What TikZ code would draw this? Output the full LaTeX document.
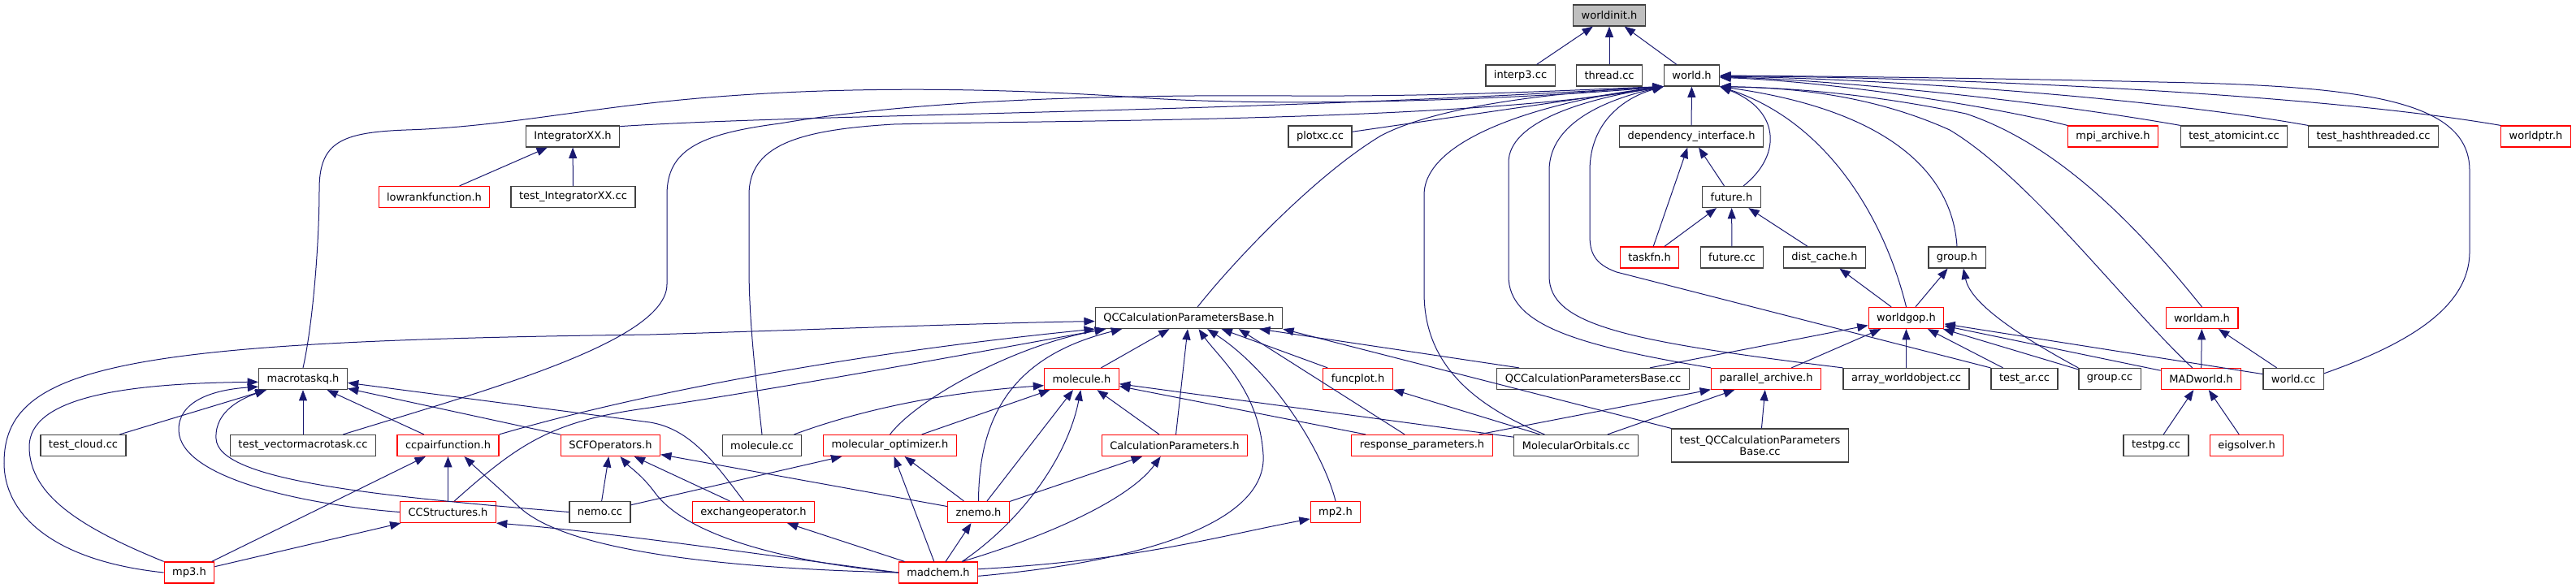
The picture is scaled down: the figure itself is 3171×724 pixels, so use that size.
\documentclass[tikz,border=0pt]{standalone}
\usepackage{fontspec}
\setmainfont{DejaVu Sans}
\usepackage{tikz}
\usetikzlibrary{arrows.meta}
\newcommand\filefont{\fontsize{9.75}{10.5}\selectfont}

\begin{document}
\begin{tikzpicture}[x=0.75pt,y=0.75pt,yscale=-1,xscale=1,
    filebox/.style={draw={rgb, 255:red, 64; green, 64; blue, 64 }, line width=0.9pt, fill=white, minimum height=19.5pt, inner xsep=7.5pt, inner ysep=2pt, font=\filefont},
    cutbox/.style={filebox, draw={rgb, 255:red, 255; green, 0; blue, 0 }},
    rootbox/.style={filebox, fill={rgb, 255:red, 191; green, 191; blue, 191 }},
    incl/.style={draw={rgb, 255:red, 25; green, 25; blue, 112 }, line width=0.75pt, -{Triangle[length=10pt,width=7.5pt]}}]
        %set diagram left start at 0, and has height of 724
        \useasboundingbox (0,0) rectangle (3171,724);

        % Text Node rows 0-2
        \node [rootbox] (worldinit) at (1981,19) {worldinit.h};
        \node [filebox] (interp3) at (1871.5,93) {interp3.cc};
        \node [filebox] (thread) at (1981,93) {thread.cc};
        \node [filebox] (world) at (2082.5,93) {world.h};
        \node [filebox] (integratorxx) at (705,168) {IntegratorXX.h};
        \node [filebox] (plotxc) at (1625,168) {plotxc.cc};
        \node [filebox] (depinterface) at (2082,168) {dependency\_interface.h};
        \node [cutbox] (mpiarchive) at (2601,168) {mpi\_archive.h};
        \node [filebox] (testatomicint) at (2750,168) {test\_atomicint.cc};
        \node [filebox] (testhashthreaded) at (2921.5,168) {test\_hashthreaded.cc};
        \node [cutbox] (worldptr) at (3121.5,168) {worldptr.h};
        % Text Node rows 3-5
        \node [cutbox] (lowrankfunction) at (534.5,242.5) {lowrankfunction.h};
        \node [filebox] (testintegratorxx) at (705.5,242.5) {test\_IntegratorXX.cc};
        \node [filebox] (futureh) at (2131.5,242.5) {future.h};
        \node [cutbox] (taskfn) at (2030.5,317) {taskfn.h};
        \node [filebox] (futurecc) at (2132,317) {future.cc};
        \node [filebox] (distcache) at (2246,317) {dist\_cache.h};
        \node [filebox] (grouph) at (2409,317) {group.h};
        \node [filebox] (qcbaseh) at (1463.5,391.5) {QCCalculationParametersBase.h};
        \node [cutbox] (worldgop) at (2346.5,391.5) {worldgop.h};
        \node [cutbox] (worldam) at (2710.5,391.5) {worldam.h};
        % Text Node row 6
        \node [filebox] (macrotaskq) at (373,466.5) {macrotaskq.h};
        \node [cutbox] (moleculeh) at (1331.5,466.5) {molecule.h};
        \node [cutbox] (funcplot) at (1671.5,466.5) {funcplot.h};
        \node [filebox] (qcbasecc) at (1961,466.5) {QCCalculationParametersBase.cc};
        \node [cutbox] (parallelarchive) at (2174,466.5) {parallel\_archive.h};
        \node [filebox] (arrayworldobject) at (2346.5,466.5) {array\_worldobject.cc};
        \node [filebox] (testar) at (2492,466.5) {test\_ar.cc};
        \node [filebox] (groupcc) at (2597,466.5) {group.cc};
        \node [cutbox] (madworld) at (2709.5,466.5) {MADworld.h};
        \node [filebox] (worldcc) at (2823,466.5) {world.cc};
        % Text Node row 7
        \node [filebox] (testcloud) at (102.5,548.5) {test\_cloud.cc};
        \node [filebox] (testvectormacrotask) at (373,548.5) {test\_vectormacrotask.cc};
        \node [cutbox] (ccpairfunction) at (551.5,548.5) {ccpairfunction.h};
        \node [cutbox] (scfoperators) at (751.5,548.5) {SCFOperators.h};
        \node [filebox] (moleculecc) at (938,548.5) {molecule.cc};
        \node [cutbox] (moloptimizer) at (1095.5,548.5) {molecular\_optimizer.h};
        \node [cutbox] (calcparams) at (1446,548.5) {CalculationParameters.h};
        \node [cutbox] (responseparams) at (1750.5,548.5) {response\_parameters.h};
        \node [filebox] (molorbitals) at (1940,548.5) {MolecularOrbitals.cc};
        \node [filebox, minimum height=30.75pt, align=center] (testqcbase) at (2166.5,548.5) {test\_QCCalculationParameters\\Base.cc};
        \node [filebox] (testpg) at (2654,548.5) {testpg.cc};
        \node [cutbox] (eigsolver) at (2765.5,548.5) {eigsolver.h};
        % Text Node rows 8-9
        \node [cutbox] (ccstructures) at (551.5,630.5) {CCStructures.h};
        \node [filebox] (nemo) at (738.5,630.5) {nemo.cc};
        \node [cutbox] (exchangeop) at (927.5,630.5) {exchangeoperator.h};
        \node [cutbox] (znemo) at (1204.5,630.5) {znemo.h};
        \node [cutbox] (mptwo) at (1644,630.5) {mp2.h};
        \node [cutbox] (mpthree) at (233,705) {mp3.h};
        \node [cutbox] (madchem) at (1155,705) {madchem.h};

        % worldinit.h
        \draw [incl] (interp3) -- (worldinit);
        \draw [incl] (thread) -- (worldinit);
        \draw [incl] (world) -- (worldinit);

        % world.h, from the left
        \draw [incl] (integratorxx.12) .. controls (1000,140) and (1500,140) .. (world.south west);
        \draw [incl] (plotxc) -- (world.south west);
        \draw [incl] (macrotaskq.north) .. controls (385,400) and (393,300) .. (393,233) .. controls (393,175) and (420,163) .. (500,160) .. controls (600,157) and (700,138) .. (800,127) .. controls (950,110) and (1150,103) .. (1400,120) .. controls (1600,134) and (1900,120) .. (world.south west);
        \draw [incl] ([xshift=37pt]testvectormacrotask.north) .. controls (600,480) and (821,420) .. (821,350) -- (821,240) .. controls (821,185) and (860,165) .. (960,152) .. controls (1100,128) and (1300,116) .. (1590,118) .. controls (1800,119) and (1950,110) .. (world.south west);
        \draw [incl] (moleculecc.north) .. controls (932,480) and (922,400) .. (922,330) -- (922,240) .. controls (922,180) and (980,160) .. (1100,153) .. controls (1300,148) and (1800,150) .. (world.south west);
        \draw [incl] ([xshift=8pt]qcbaseh.north) .. controls (1520,320) and (1620,215) .. (1700,167) .. controls (1780,125) and (1950,112) .. (world.south west);
        \draw [incl] ([xshift=-29pt]molorbitals.north) .. controls (1790,490) and (1753,430) .. (1753,360) -- (1753,240) .. controls (1753,170) and (1900,125) .. (world.south west);
        \draw [incl] (parallelarchive.north west) .. controls (1940,425) and (1857,400) .. (1857,340) -- (1857,200) .. controls (1857,150) and (1950,122) .. (world.south west);
        \draw [incl] (arrayworldobject.north west) .. controls (2000,420) and (1907,400) .. (1907,340) -- (1907,210) .. controls (1907,150) and (1980,122) .. (world.south west);
        \draw [incl] (testar.north west) -- (1990,335) .. controls (1962,325) and (1957,310) .. (1957,290) -- (1957,210) .. controls (1957,150) and (2000,120) .. (world.south west);

        % world.h, from below and the right
        \draw [incl] (depinterface) -- (world);
        \draw [incl] ([xshift=11pt]futureh.north) .. controls (2195,190) and (2190,135) .. (world.south east);
        \draw [incl] (grouph.north) .. controls (2403,210) and (2320,135) .. (world.south east);
        \draw [incl] (worldgop.north) .. controls (2320,270) and (2250,150) .. (world.south east);
        \draw [incl] (worldam.north) .. controls (2640,290) and (2540,180) .. (2420,140) .. controls (2300,115) and (2200,108) .. (world.south east);
        \draw [incl] ([xshift=-8pt]madworld.north) .. controls (2620,380) and (2500,220) .. (2400,160) .. controls (2300,115) and (2200,108) .. (world.south east);
        \draw [incl] (worldcc.10) .. controls (2960,425) and (3040,380) .. (3040,310) -- (3040,210) .. controls (3040,130) and (2930,108) .. (2700,102) .. controls (2450,96) and (2250,94) .. (world.east);
        \draw [incl] (mpiarchive.north west) .. controls (2450,130) and (2250,100) .. (world.-4);
        \draw [incl] (testatomicint.north west) .. controls (2500,122) and (2250,98) .. (world.-3);
        \draw [incl] (testhashthreaded.north west) .. controls (2650,120) and (2300,96) .. (world.-2);
        \draw [incl] (worldptr.north west) .. controls (2850,115) and (2400,95) .. (world.-1);

        % IntegratorXX.h, dependency_interface.h, future.h
        \draw [incl] (lowrankfunction) -- (integratorxx);
        \draw [incl] (testintegratorxx) -- (integratorxx);
        \draw [incl] (futureh) -- (depinterface);
        \draw [incl] (taskfn) -- (depinterface);
        \draw [incl] (taskfn) -- (futureh);
        \draw [incl] (futurecc) -- (futureh);
        \draw [incl] (distcache) -- (futureh);

        % worldgop.h, group.h, worldam.h, MADworld.h
        \draw [incl] (worldgop) -- (distcache);
        \draw [incl] (worldgop) -- (grouph);
        \draw [incl] (qcbasecc) -- (worldgop);
        \draw [incl] (parallelarchive) -- (worldgop);
        \draw [incl] (arrayworldobject) -- (worldgop);
        \draw [incl] (testar) -- (worldgop);
        \draw [incl] (groupcc) -- (worldgop);
        \draw [incl] (madworld) -- (worldgop);
        \draw [incl] (worldcc) -- (worldgop);
        \draw [incl] (groupcc.north west) .. controls (2470,405) and (2425,370) .. (grouph.-60);
        \draw [incl] (madworld) -- (worldam);
        \draw [incl] (worldcc) -- (worldam);
        \draw [incl] (testpg) -- (madworld);
        \draw [incl] (eigsolver) -- (madworld);

        % parallel_archive.h, funcplot.h
        \draw [incl] (responseparams) -- (parallelarchive);
        \draw [incl] (molorbitals) -- (parallelarchive);
        \draw [incl] (testqcbase) -- (parallelarchive);
        \draw [incl] (molorbitals) -- (funcplot);

        % molecule.h
        \draw [incl] (moleculecc.19) .. controls (1050,508) and (1150,484) .. (moleculeh.190);
        \draw [incl] (moloptimizer) -- (moleculeh);
        \draw [incl] (znemo) -- (moleculeh);
        \draw [incl] (calcparams) -- (moleculeh);
        \draw [incl] (molorbitals) -- (moleculeh);
        \draw [incl] (responseparams) -- (moleculeh);
        \draw [incl] ([xshift=22pt]madchem.north) .. controls (1260,640) and (1315,560) .. (moleculeh.-95);

        % QCCalculationParametersBase.h
        \draw [incl] (moleculeh) -- (qcbaseh);
        \draw [incl] (calcparams) -- (qcbaseh);
        \draw [incl] (moloptimizer.north) .. controls (1130,490) and (1250,425) .. ([xshift=10pt]qcbaseh.south west);
        \draw [incl] (znemo.north) .. controls (1205,520) and (1240,440) .. ([xshift=25pt]qcbaseh.south west);
        \draw [incl] (madchem.-5) .. controls (1420,690) and (1560,640) .. (1555,560) .. controls (1550,480) and (1500,440) .. ([xshift=9pt]qcbaseh.south);
        \draw [incl] (mptwo.north) .. controls (1630,560) and (1570,460) .. ([xshift=17pt]qcbaseh.south);
        \draw [incl] (funcplot) -- ([xshift=30pt]qcbaseh.south);
        \draw [incl] (responseparams) -- ([xshift=46pt]qcbaseh.south);
        \draw [incl] (qcbasecc) -- ([xshift=65pt]qcbaseh.south);
        \draw [incl] (testqcbase.north west) -- (qcbaseh.south east);
        \draw [incl] (ccpairfunction.north east) .. controls (750,495) and (1000,440) .. (qcbaseh.south west);
        \draw [incl] (ccstructures.60) .. controls (640,545) and (680,518) .. (800,502) .. controls (1000,472) and (1250,425) .. ([xshift=10pt]qcbaseh.south west);
        \draw [incl] (mpthree.west) .. controls (60,690) and (5,630) .. (5,570) .. controls (5,450) and (150,420) .. (800,412) .. controls (1000,406) and (1200,398) .. (qcbaseh.182);

        % macrotaskq.h
        \draw [incl] (testcloud) -- (macrotaskq);
        \draw [incl] (testvectormacrotask) -- (macrotaskq);
        \draw [incl] (ccpairfunction) -- (macrotaskq);
        \draw [incl] (scfoperators) -- (macrotaskq);
        \draw [incl] (nemo.west) .. controls (450,610) and (268,590) .. (266,540) .. controls (264,505) and (300,490) .. ([xshift=7pt]macrotaskq.south west);
        \draw [incl] (ccstructures.west) .. controls (380,622) and (222,590) .. (220,530) .. controls (219,495) and (260,480) .. (macrotaskq.190);
        \draw [incl] (mpthree.north west) .. controls (100,650) and (36,610) .. (36,550) .. controls (36,490) and (150,472) .. (macrotaskq.184);
        \draw [incl] ([xshift=-9pt]exchangeop.north) .. controls (880,570) and (850,528) .. (800,520) -- (macrotaskq.-5);

        % ccpairfunction.h, CCStructures.h, SCFOperators.h
        \draw [incl] (mpthree) -- (ccpairfunction);
        \draw [incl] (ccstructures) -- (ccpairfunction);
        \draw [incl] (madchem.west) .. controls (900,700) and (700,680) .. (640,625) .. controls (610,597) and (590,580) .. ([xshift=15pt]ccpairfunction.south);
        \draw [incl] (mpthree) -- (ccstructures);
        \draw [incl] (madchem.west) .. controls (950,685) and (750,655) .. (ccstructures.south east);
        \draw [incl] (nemo) -- (scfoperators);
        \draw [incl] (madchem.west) .. controls (950,690) and (840,655) .. (805,605) .. controls (790,585) and (775,575) .. ([xshift=9pt]scfoperators.south);
        \draw [incl] (exchangeop) -- (scfoperators);
        \draw [incl] (znemo) -- (scfoperators);

        % molecular_optimizer.h, CalculationParameters.h, znemo.h, mp2.h
        \draw [incl] (nemo) -- (moloptimizer);
        \draw [incl] (znemo) -- (moloptimizer);
        \draw [incl] (madchem) -- (moloptimizer);
        \draw [incl] (madchem) -- (znemo);
        \draw [incl] (madchem) -- (exchangeop);
        \draw [incl] (znemo) -- (calcparams);
        \draw [incl] ([xshift=22pt]madchem.north) .. controls (1290,660) and (1390,615) .. ([xshift=-13pt]calcparams.south);
        \draw [incl] (madchem.5) .. controls (1400,690) and (1500,660) .. (mptwo.195);

    \end{tikzpicture}
\end{document}
